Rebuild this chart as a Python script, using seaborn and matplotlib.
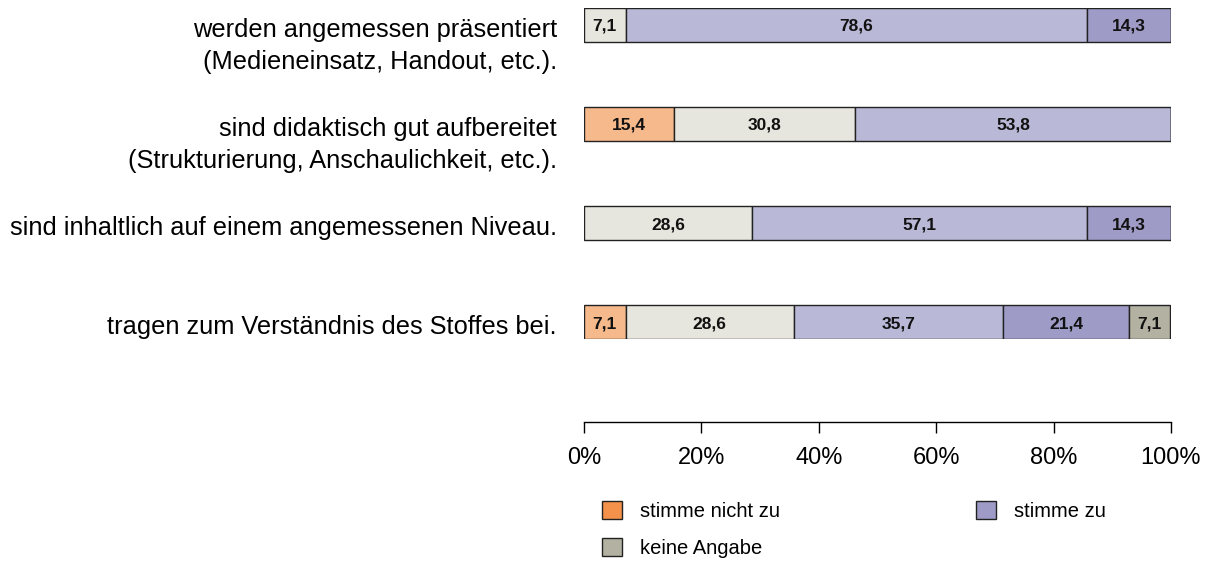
import matplotlib
matplotlib.use("Agg")
import matplotlib.pyplot as plt
import matplotlib.transforms as mtransforms
from matplotlib.patches import Patch
import pandas as pd
import seaborn as sns

# statements (one bar each)
statements = [
    "werden angemessen präsentiert\n(Medieneinsatz, Handout, etc.).",
    "sind didaktisch gut aufbereitet\n(Strukturierung, Anschaulichkeit, etc.).",
    "sind inhaltlich auf einem angemessenen Niveau.",
    "tragen zum Verständnis des Stoffes bei.",
]

# percentages per answer category (left to right in the bars)
eher_nicht_zu = [0.0, 15.4, 0.0, 7.1]
teils = [7.1, 30.8, 28.6, 28.6]
eher_zu = [78.6, 53.8, 57.1, 35.7]
stimme_zu = [14.3, 0.0, 14.3, 21.4]
keine_angabe = [0.0, 0.0, 0.0, 7.1]

segments = [
    ("stimme eher nicht zu", eher_nicht_zu, "#f6b98b"),
    ("teils/teils", teils, "#e7e6de"),
    ("stimme eher zu", eher_zu, "#b9b8d7"),
    ("stimme zu", stimme_zu, "#9e9bc6"),
    ("keine Angabe", keine_angabe, "#b3b2a2"),
]

# legend entries as shown in the chart
legend_labels = ["stimme nicht zu", "keine Angabe", "stimme zu"]
legend_colors = ["#f4914a", "#b3b2a2", "#9e9bc6"]

sns.set_theme(style="white")
plt.rcParams["font.family"] = ["Liberation Sans", "DejaVu Sans"]
plt.rcParams["text.color"] = "black"

fig = plt.figure(figsize=(12.14, 5.62), dpi=100)
ax = fig.add_axes([584 / 1214, 1 - 339 / 562, 587 / 1214, 331 / 562])

bar_h = 0.34
left = [0.0] * len(statements)
for name, values, color in segments:
    df = pd.DataFrame({"statement": statements, "value": values})
    sns.barplot(data=df, x="value", y="statement", left=left, color=color,
                saturation=1, width=bar_h, edgecolor="#222222", linewidth=1,
                errorbar=None, ax=ax)
    for i, v in enumerate(values):
        if v > 0:
            ax.text(left[i] + v / 2, i, f"{v:.1f}".replace(".", ","),
                    ha="center", va="center_baseline", fontsize=12.5,
                    fontweight="bold", color="#111111")
    left = [l + v for l, v in zip(left, values)]

ax.set_xlim(0, 100)
ax.set_ylim(len(statements) - 1 + bar_h / 2, -bar_h / 2)
ax.set_xlabel("")
ax.set_ylabel("")
ax.tick_params(axis="y", left=False, labelleft=False)
ax.tick_params(axis="x", bottom=True, direction="out", length=8, width=1,
               pad=10, labelsize=17, color="black", labelcolor="black")
ax.set_xticks([0, 20, 40, 60, 80, 100])
ax.xaxis.set_major_formatter(lambda x, pos: f"{x:.0f}%")
for side in ["left", "top", "right"]:
    ax.spines[side].set_visible(False)
ax.spines["bottom"].set_position(("outward", 60))
ax.spines["bottom"].set_bounds(0, 100)
ax.spines["bottom"].set_color("black")
ax.spines["bottom"].set_linewidth(1)

# statement labels: first line level with the bar
trans = mtransforms.blended_transform_factory(ax.transAxes, ax.transData)
trans = mtransforms.offset_copy(trans, fig=fig, x=0, y=5, units="points")
for i, s in enumerate(statements):
    ax.text(-0.046, i, s, transform=trans, ha="right", va="top",
            multialignment="right", fontsize=18.3, linespacing=1.4,
            color="black")

handles = [Patch(facecolor=c, edgecolor="#222222", linewidth=1)
           for c in legend_colors]
fig.legend(handles, legend_labels, ncol=2, loc="upper left",
           bbox_to_anchor=(602 / 1214, 1 - 501 / 562), frameon=False,
           fontsize=14.5, handlelength=1.0, handleheight=1.0,
           handletextpad=0.9, columnspacing=9.7, labelspacing=0.85,
           borderpad=0, borderaxespad=0, labelcolor="black")

fig.savefig("out.png", dpi=100)
